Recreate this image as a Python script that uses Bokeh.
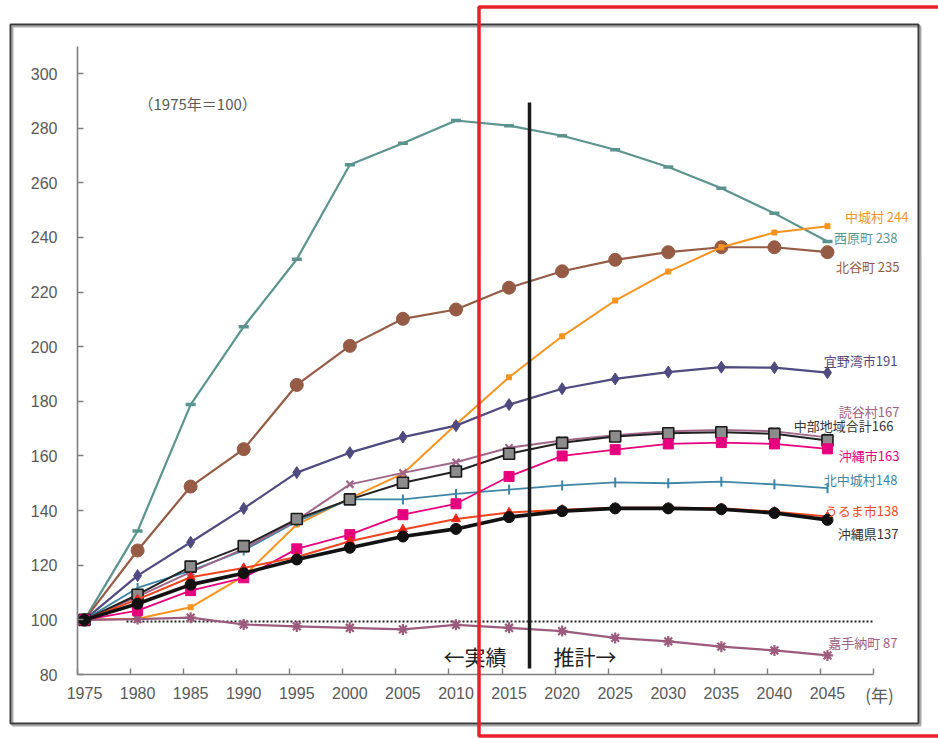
from bokeh.plotting import figure
from bokeh.models import FixedTicker, BoxAnnotation, ColumnDataSource
from bokeh.core.properties import value
from bokeh.embed import file_html
from bokeh.resources import INLINE

# ---------------- data (index, 1975 = 100) ----------------
years = [1975, 1980, 1985, 1990, 1995, 2000, 2005, 2010, 2015,
         2020, 2025, 2030, 2035, 2040, 2045]

nishihara = [100, 132.5, 178.8, 207.3, 232.0, 266.6, 274.5, 282.8, 280.9,
             277.2, 272.1, 265.8, 258.0, 248.8, 238.5]
chatan = [100, 125.4, 148.8, 162.5, 186.0, 200.3, 210.2, 213.6, 221.6,
          227.6, 231.8, 234.6, 236.4, 236.4, 234.6]
nakagusuku = [100, 100.4, 104.6, 116.0, 134.9, 144.5, 153.5, 171.5, 188.8,
              203.8, 216.9, 227.5, 236.4, 241.8, 244.1]
ginowan = [100, 116.2, 128.4, 140.8, 153.9, 161.2, 166.9, 171.1, 178.8,
           184.6, 188.2, 190.7, 192.5, 192.3, 190.5]
yomitan = [100, 108.5, 117.5, 126.0, 136.5, 149.6, 153.8, 157.7, 163.0,
           165.7, 167.6, 169.0, 169.5, 169.0, 166.8]
chubu_total = [100, 109.2, 119.5, 127.0, 136.9, 144.1, 150.2, 154.3, 160.8,
               164.8, 167.1, 168.3, 168.7, 168.1, 165.7]
okinawa_city = [100, 103.4, 110.7, 115.4, 126.0, 131.2, 138.5, 142.5, 152.5,
                160.0, 162.3, 164.4, 164.9, 164.4, 162.6]
kitanakagusuku = [100, 111.7, 118.0, 125.4, 136.0, 144.1, 144.1, 146.1, 147.7,
                  149.2, 150.3, 150.0, 150.6, 149.6, 148.2]
uruma = [100, 107.5, 115.6, 119.0, 123.0, 128.8, 133.1, 136.9, 139.3,
         140.3, 141.0, 141.0, 140.9, 139.6, 137.8]
okinawa_pref = [100, 105.9, 112.9, 117.1, 122.1, 126.4, 130.5, 133.3, 137.6,
                139.8, 140.8, 140.8, 140.5, 139.1, 136.6]
kadena = [100, 100.3, 100.8, 98.3, 97.6, 97.1, 96.5, 98.2, 97.1,
          95.9, 93.4, 92.1, 90.2, 88.8, 87.0]

end_labels = ["西原町 238", "北谷町 235", "中城村 244", "宜野湾市191", "嘉手納町 87",
              "北中城村148", "読谷村167", "中部地域合計166", "沖縄市163",
              "うるま市138", "沖縄県137"]

y_ticks = [80, 100, 120, 140, 160, 180, 200, 220, 240, 260, 280, 300]

# ---------------- layout (pixels on the page) ----------------
W, H = 938, 738
PX_1975 = 84.0        # x pixel of 1975
PX_PER_YEAR = 10.614
PY_80 = 674.0         # y pixel of value 80
PX_PER_UNIT = 2.7318


def xd(px):
    return 1975 + (px - PX_1975) / PX_PER_YEAR


def yd(py):
    return 80 + (PY_80 - py) / PX_PER_UNIT


x_start = xd(77)                      # y-axis position
x_axis_end = x_start + 75
y_axis_top = 310

# ---------------- styles ----------------
JP = "Noto Sans CJK JP"
series = [
    (nishihara, "#5b948f", 2.2, "dash", 10, "#5b948f", "#5b948f", 3.5, 0),
    (chatan, "#955b45", 2.2, "circle", 13, "#955b45", "#955b45", 1, 0),
    (nakagusuku, "#f7931e", 2.0, "square", 5, "#f7931e", "#f7931e", 1, 0),
    (ginowan, "#4f4a80", 2.2, "diamond", 12, "#4f4a80", "#4f4a80", 1, 0),
    (kadena, "#9c5b7c", 2.2, "asterisk", 11, "#9c5b7c", "#9c5b7c", 2.2, 0),
    (kitanakagusuku, "#3d86a6", 1.8, "dash", 10, "#3d86a6", "#3d86a6", 2, 1.5708),
    (yomitan, "#a0668a", 2.0, "x", 10, "#a0668a", "#a0668a", 2.2, 0),
    (chubu_total, "#222222", 2.0, "square", 11, "#8c8c8c", "#1a1a1a", 1.6, 0),
    (okinawa_city, "#e6007e", 1.8, "square", 10, "#e6007e", "#e6007e", 1, 0),
    (uruma, "#f0441e", 2.0, "triangle", 9, "#e8261c", "#e8261c", 1, 0),
    (okinawa_pref, "#111111", 3.6, "circle", 11, "#111111", "#111111", 1, 0),
]
label_colors = ["#5b948f", "#955b45", "#f7931e", "#4f4a80", "#a0607f",
                "#3d86a6", "#a0607f", "#333333", "#e6007e", "#f04a23", "#333333"]
label_right_px = [897, 899, 908, 897, 897, 897, 899, 893, 899, 898, 898]
label_mid_py = [236.7, 266, 216, 360, 641.7, 479, 411, 425, 455, 510, 533]

p = figure(width=W, height=H, x_range=(xd(0), xd(W)), y_range=(yd(H), yd(0)),
           output_backend="svg", toolbar_location=None, min_border=0)
p.outline_line_color = None
p.xgrid.grid_line_color = None
p.ygrid.grid_line_color = None
p.background_fill_color = "white"
p.border_fill_color = "white"

axis_col = "#7f7f7f"
lab_col = "#595959"

xa = p.xaxis[0]
xa.fixed_location = 80
xa.ticker = FixedTicker(ticks=years, minor_ticks=[x_start + 5 * k for k in range(16)])
xa.bounds = (x_start, x_axis_end + 0.01)
xa.axis_line_color = axis_col
xa.axis_line_width = 1.6
xa.major_tick_line_color = None
xa.major_tick_in = 0
xa.major_tick_out = 0
xa.minor_tick_in = 6
xa.minor_tick_out = 0
xa.minor_tick_line_color = axis_col
xa.minor_tick_line_width = 1.4
xa.major_label_standoff = 12
xa.major_label_text_font = "Liberation Sans"
xa.major_label_text_font_size = "16px"
xa.major_label_text_color = lab_col

ya = p.yaxis[0]
ya.fixed_location = x_start
ya.ticker = FixedTicker(ticks=y_ticks)
ya.bounds = (80, y_axis_top)
ya.axis_line_color = axis_col
ya.axis_line_width = 1.6
ya.major_tick_line_color = axis_col
ya.major_tick_line_width = 1.4
ya.major_tick_in = 6
ya.major_tick_out = 0
ya.minor_tick_line_color = None
ya.major_label_standoff = 20
ya.major_label_text_font = "Liberation Sans"
ya.major_label_text_font_size = "16px"
ya.major_label_text_color = lab_col

# dotted base line
base_y = yd(621)
p.line([xd(126), x_axis_end], [base_y, base_y], line_color="#222222",
       line_width=1.8, line_dash="2 2")

# series
for vals, lc, lw, mk, ms, fc, mlc, mlw, ang in series:
    p.line(years, vals, line_color=lc, line_width=lw)
    p.scatter(years, vals, marker=mk, size=ms, fill_color=fc, line_color=mlc,
              line_width=mlw, angle=ang)

# end labels
src = ColumnDataSource(dict(x=[xd(v) for v in label_right_px],
                            y=[yd(v) for v in label_mid_py],
                            t=end_labels, c=label_colors))
p.text(x="x", y="y", text="t", text_color="c", source=src,
       text_font=value(JP), text_font_size="13px",
       text_align="right", text_baseline="middle")

# divider between actual and projection
divider_x = xd(529)
p.segment(x0=[divider_x], y0=[yd(668)], x1=[divider_x], y1=[yd(102)],
          line_color="#1a1a1a", line_width=3.5)
p.text(x=[xd(506)], y=[yd(655)], text=["←実績"],
       text_font=value(JP), text_font_size="21px", text_color="#222222",
       text_align="right", text_baseline="middle")
p.text(x=[xd(553)], y=[yd(655)], text=["推計→"],
       text_font=value(JP), text_font_size="21px", text_color="#222222",
       text_align="left", text_baseline="middle")

# note
p.text(x=[xd(138)], y=[yd(103)], text=["（1975年＝100）"], text_font=value(JP),
       text_font_size="15px", text_color=lab_col, text_align="left",
       text_baseline="middle")

# unit label of x axis
p.text(x=[xd(879)], y=[yd(694)], text=["(年)"], text_font=value(JP),
       text_font_size="17px", text_color=lab_col, text_align="center",
       text_baseline="middle")


def box(l, r, t, b, color, width):
    return BoxAnnotation(left=l, right=r, top=t, bottom=b,
                         left_units="canvas", right_units="canvas",
                         top_units="canvas", bottom_units="canvas",
                         fill_alpha=0, line_color=color, line_alpha=1,
                         line_width=width, level="overlay")


# outer frame with shadow
p.add_layout(box(12, 920, 26, 725, "#a8a8a8", 2))
p.add_layout(box(10, 918, 24, 723, "#3a3a3a", 2))
# red highlight box
p.add_layout(box(478.5, 960, 6.5, 735.5, "#e8202a", 3.5))

open("out.html", "w").write(file_html(p, INLINE))
